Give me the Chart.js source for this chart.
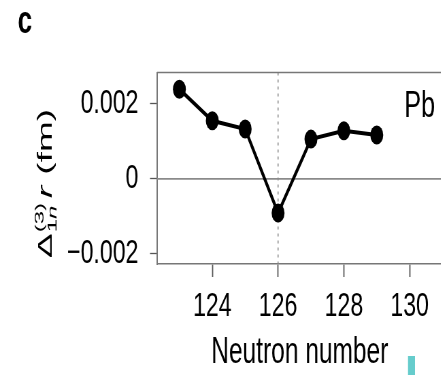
<!DOCTYPE html>
<html>
<head>
<meta charset="utf-8">
<script src="https://cdn.jsdelivr.net/npm/chart.js@4.4.0/dist/chart.umd.min.js"></script>
<style>
  html, body { margin: 0; padding: 0; background: #fff; overflow: hidden; }
  #wrap { width: 441px; height: 375px; overflow: hidden; }
</style>
</head>
<body>
<div id="wrap">
  <!-- drawn on a wider canvas and squeezed horizontally by CSS -->
  <canvas id="myChart" width="660" height="375" style="display:block;width:449px;height:375px"></canvas>
</div>
<script>
const neutronNumbers = [123, 124, 125, 126, 127, 128, 129];
const deltaR = [0.00239, 0.00155, 0.00133, -0.00091, 0.00106, 0.00128, 0.00117];
const xTickValues = [124, 126, 128, 130];
const yTickValues = [-0.002, 0, 0.002];
const yTickLabels = ['\u22120.002', '0', '0.002'];
const shellClosure = 126;

const FONT = '"Liberation Sans", Arial, sans-serif';

const extras = {
    id: 'extras',
    beforeDatasetsDraw(chart) {
        const { ctx, chartArea: a, scales: { x, y } } = chart;
        ctx.save();
        // zero line
        const y0 = y.getPixelForValue(0);
        ctx.strokeStyle = '#8a8a8a';
        ctx.lineWidth = 1.6;
        ctx.beginPath();
        ctx.moveTo(a.left, y0);
        ctx.lineTo(a.right, y0);
        ctx.stroke();
        // dotted line at N = 126
        const xm = x.getPixelForValue(shellClosure);
        ctx.setLineDash([3, 4]);
        ctx.lineWidth = 1.6;
        ctx.strokeStyle = '#8a8a8a';
        ctx.beginPath();
        ctx.moveTo(xm, a.top);
        ctx.lineTo(xm, a.bottom);
        ctx.stroke();
        ctx.setLineDash([]);
        // top of the frame
        ctx.strokeStyle = '#777';
        ctx.lineWidth = 1.5;
        ctx.beginPath();
        ctx.moveTo(a.left, a.top);
        ctx.lineTo(a.right, a.top);
        ctx.stroke();
        ctx.restore();
    },
    afterDraw(chart) {
        const { ctx, chartArea: a } = chart;
        ctx.save();
        ctx.fillStyle = '#000';

        // element label
        ctx.font = '37px ' + FONT;
        ctx.textAlign = 'right';
        ctx.textBaseline = 'alphabetic';
        ctx.fillText('Pb', a.right - 11, a.top + 44);

        // panel letter
        ctx.font = 'bold 38px ' + FONT;
        ctx.textAlign = 'left';
        ctx.fillText('c', 26, 33);

        // y axis title: Δ^(3)_1n r (fm)
        ctx.save();
        ctx.translate(75.5, 258);
        ctx.rotate(-Math.PI / 2);
        ctx.scale(1, 0.8);
        ctx.textAlign = 'left';
        let cx = 0;
        ctx.font = '37px ' + FONT;
        ctx.fillText('\u0394', cx, 0);
        cx += ctx.measureText('\u0394').width + 1;
        ctx.font = '24px ' + FONT;
        const wSup = ctx.measureText('(3)').width;
        ctx.fillText('(3)', cx, -14.7);
        ctx.fillText('1', cx, 9.6);
        const w1 = ctx.measureText('1').width;
        ctx.font = 'italic 24px ' + FONT;
        ctx.fillText('n', cx + w1, 9.6);
        const wSub = w1 + ctx.measureText('n').width;
        cx += Math.max(wSup, wSub) + 5;
        ctx.font = 'italic 37px ' + FONT;
        ctx.fillText('r', cx, 0);
        cx += ctx.measureText('r').width + 11;
        ctx.font = '37px ' + FONT;
        ctx.fillText('(fm)', cx, 0);
        ctx.restore();

        // edge of the neighbouring panel
        ctx.fillStyle = '#66cccc';
        ctx.fillRect(599.7, 356, 10.3, 19);
        ctx.restore();
    }
};

const ctx = document.getElementById('myChart').getContext('2d');

const myChart = new Chart(ctx, {
    type: 'line',
    data: {
        datasets: [{
            data: neutronNumbers.map((n, i) => ({ x: n, y: deltaR[i] })),
            borderColor: '#000',
            backgroundColor: '#000',
            borderWidth: 4,
            pointRadius: 9.5,
            pointHoverRadius: 9.5,
            pointBorderWidth: 0,
            tension: 0
        }]
    },
    options: {
        responsive: false,
        animation: false,
        events: [],
        layout: { padding: { left: 0, top: 72.5, right: 5.9, bottom: 0 } },
        plugins: {
            legend: { display: false },
            tooltip: { enabled: false }
        },
        scales: {
            x: {
                type: 'linear',
                min: 122.32,
                max: 131,
                afterBuildTicks: s => { s.ticks = xTickValues.map(v => ({ value: v })); },
                afterFit: s => { s.height = 111; },
                grid: { drawOnChartArea: false, drawTicks: true, tickLength: 13, tickColor: '#555', tickWidth: 1.8 },
                border: { display: true, color: '#777', width: 1.5 },
                ticks: {
                    autoSkip: false, maxRotation: 0, padding: 9, color: '#000',
                    font: { family: FONT, size: 34 }
                },
                title: {
                    display: true, text: 'Neutron number', color: '#000',
                    font: { family: FONT, size: 36 },
                    padding: { top: 0, bottom: 0 }
                }
            },
            y: {
                min: -0.002267,
                max: 0.002835,
                afterBuildTicks: s => { s.ticks = yTickValues.map(v => ({ value: v })); },
                afterFit: s => { s.width = 230.8; },
                grid: { drawOnChartArea: false, drawTicks: true, tickLength: 10.3, tickColor: '#555', tickWidth: 1.3 },
                border: { display: true, color: '#777', width: 2 },
                ticks: {
                    autoSkip: false, padding: 17, color: '#000',
                    font: { family: FONT, size: 34 },
                    callback: v => {
                        const i = yTickValues.findIndex(t => Math.abs(t - v) < 1e-9);
                        return i >= 0 ? yTickLabels[i] : '';
                    }
                }
            }
        }
    },
    plugins: [extras]
});
</script>
</body>
</html>
